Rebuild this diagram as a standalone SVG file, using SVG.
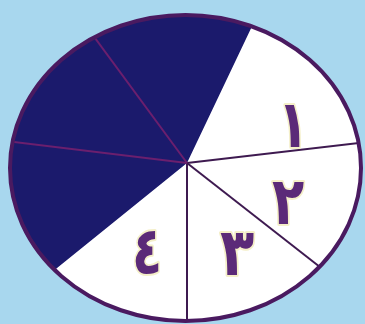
<svg xmlns="http://www.w3.org/2000/svg" width="365" height="324" viewBox="0 0 365 324">
<style>
.num{font-family:"DejaVu Sans","Noto Sans",sans-serif;font-weight:bold;font-size:66px;fill:#5b2a78;stroke:#f4efc8;stroke-width:4;paint-order:stroke;stroke-linejoin:round;text-anchor:middle}
.lw{stroke:#3e1a50;stroke-width:2;fill:none}
.ld{stroke:#6b1f6e;stroke-width:2;fill:none}
</style>
<defs>
<clipPath id="clip"><ellipse cx="185.5" cy="168" rx="175.5" ry="153"/></clipPath>
</defs>
<rect width="365" height="324" fill="#a8d7ee"/>
<g id="pie">
<ellipse cx="185.5" cy="168" rx="175.5" ry="153" fill="#ffffff"/>
<g clip-path="url(#clip)">
<polygon points="187,163 284,-41 -20,-41 -20,335 -6,319" fill="#1b1a6c"/>
</g>
</g>
<g id="connectors" clip-path="url(#clip)">
<line class="lw" x1="187" y1="163" x2="370" y2="141.6"/>
<line class="lw" x1="187" y1="163" x2="357" y2="296"/>
<line class="lw" x1="187" y1="163" x2="187" y2="330"/>
<line class="ld" x1="187" y1="163" x2="67" y2="0"/>
<line class="ld" x1="187" y1="163" x2="-5" y2="139.7"/>
</g>
<ellipse cx="185.5" cy="168" rx="175.5" ry="153" fill="none" stroke="#4a1a60" stroke-width="4"/>
<g id="n1"><text class="num" transform="translate(293,147) scale(0.75,1)">١</text></g>
<g id="n2"><text class="num" transform="translate(288,224) scale(0.8,1)">٢</text></g>
<g id="n3"><text class="num" transform="translate(237,275) scale(0.85,1)">٣</text></g>
<g id="n4"><text class="num" transform="translate(147,274) scale(0.75,1)">٤</text></g>
</svg>
